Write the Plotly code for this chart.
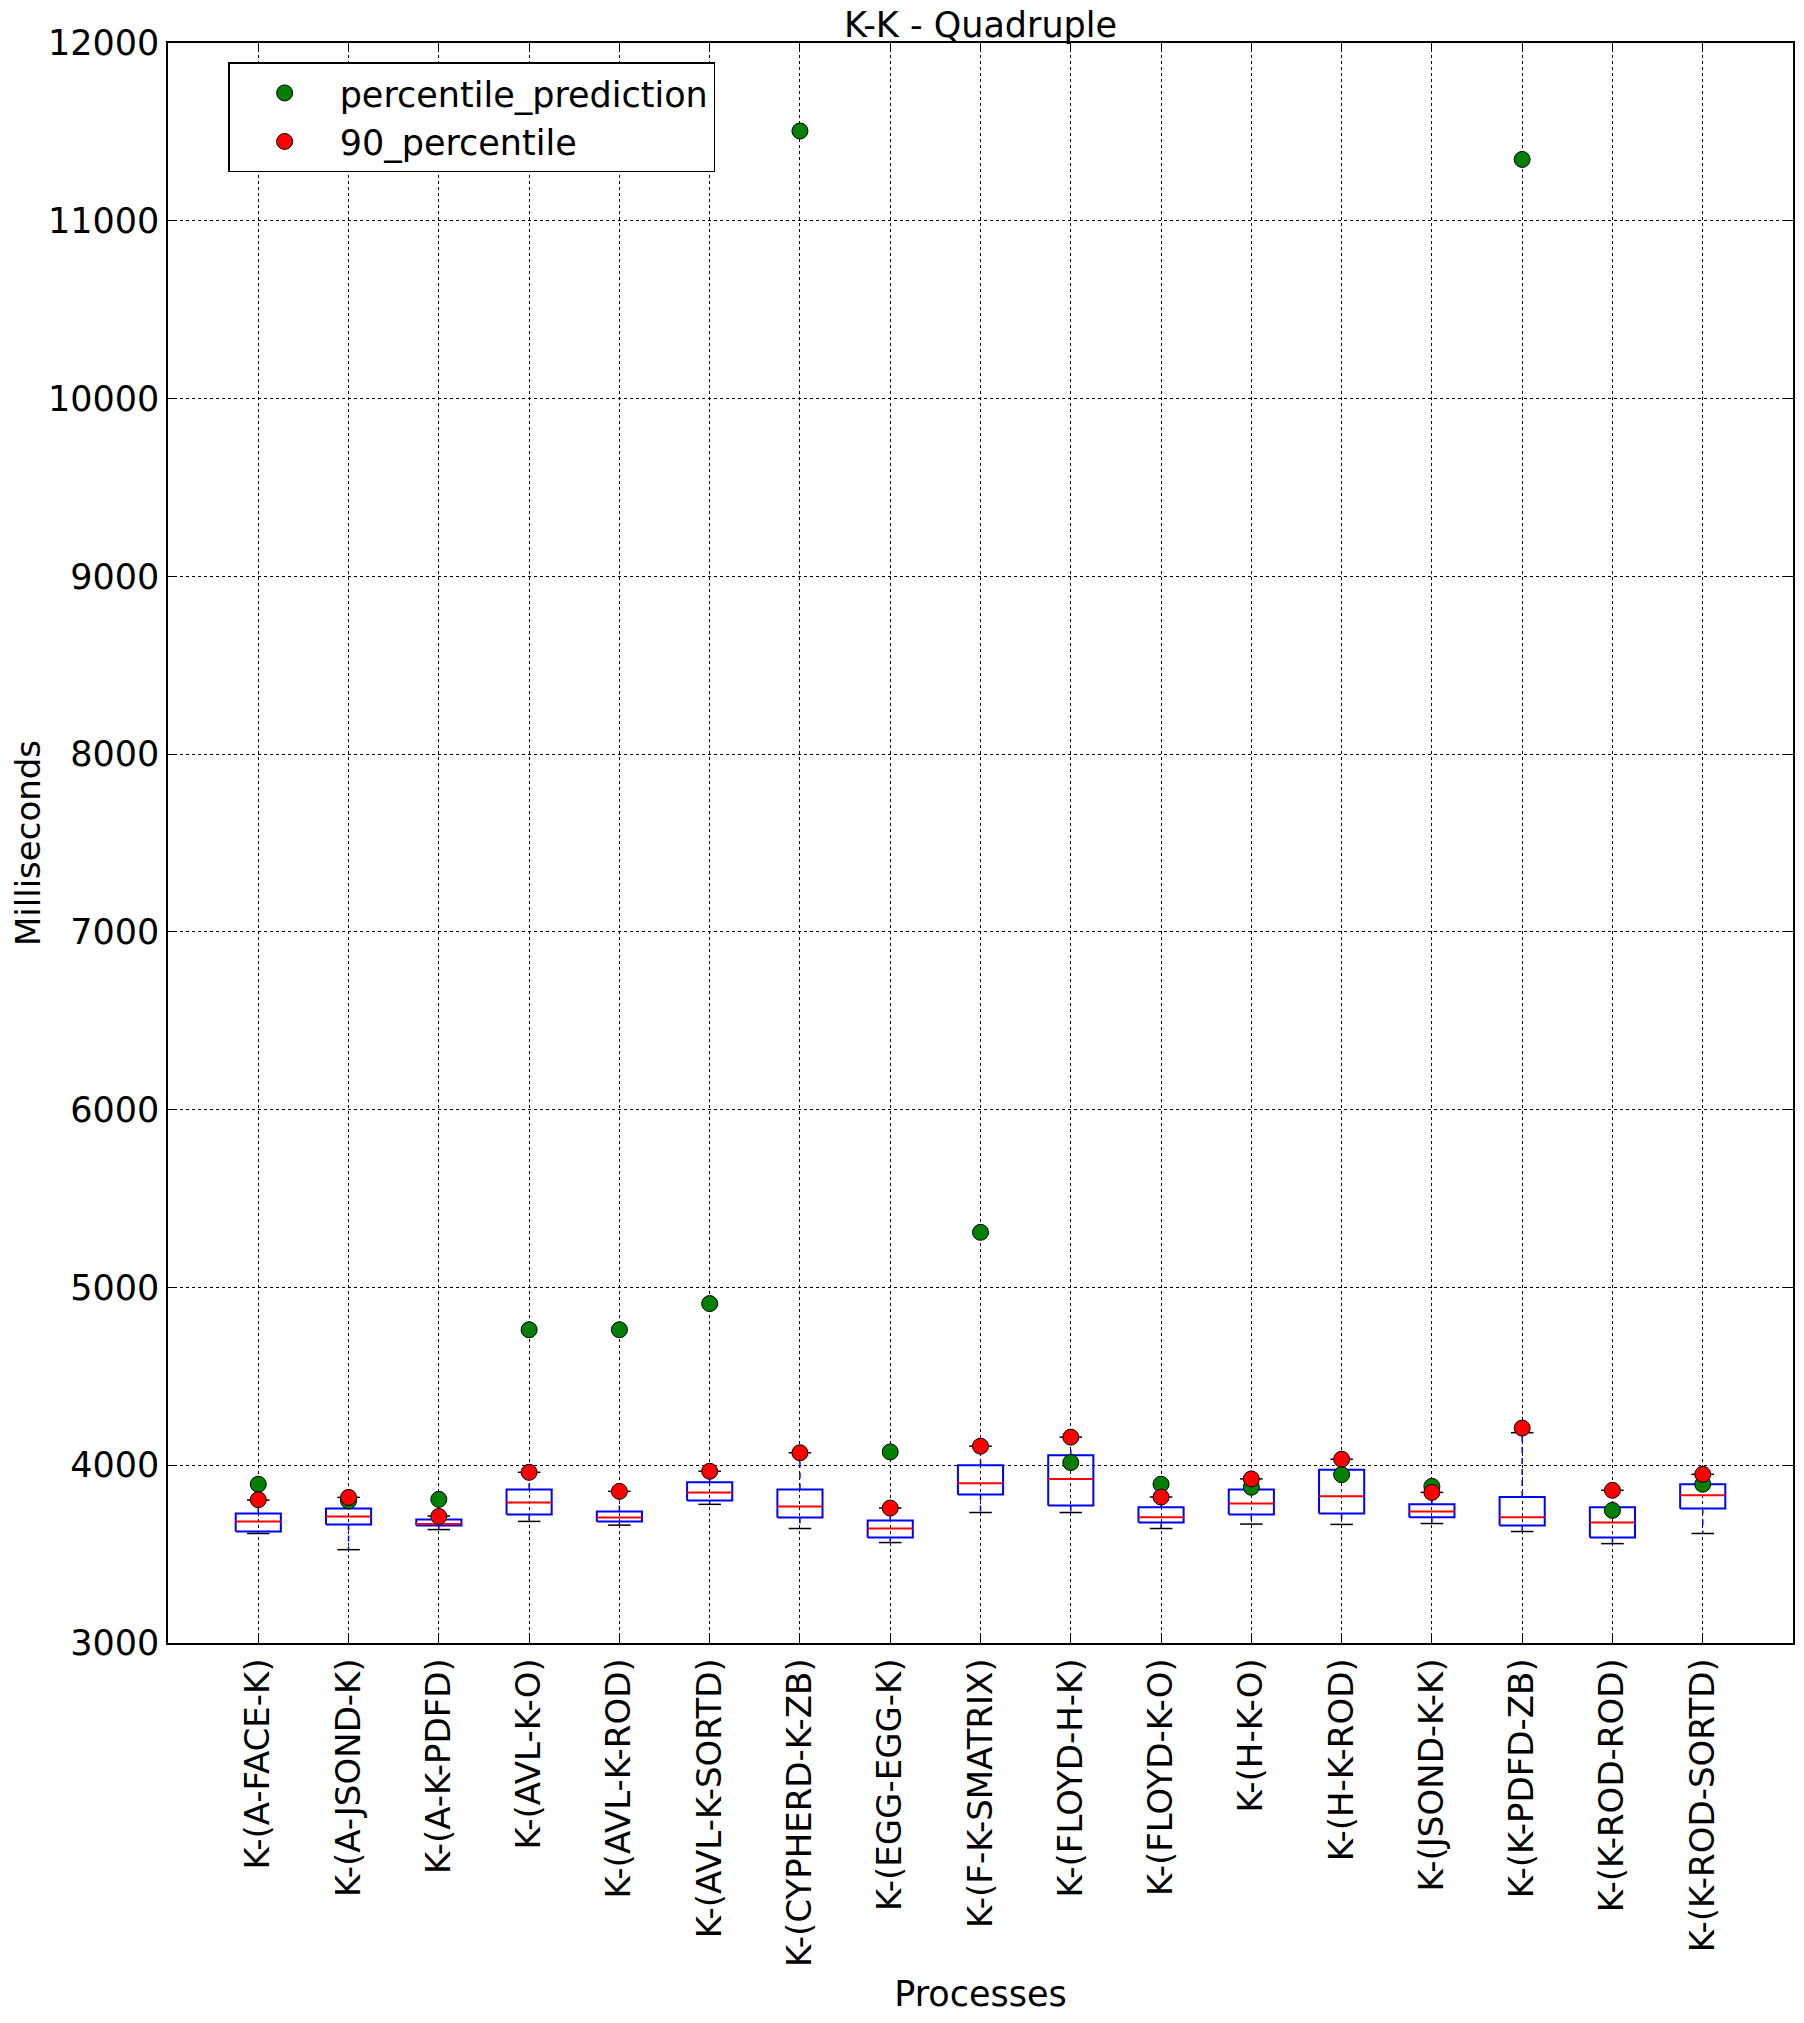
import plotly.graph_objs as go
import numpy as np

processes = ['K-(A-FACE-K)', 'K-(A-JSOND-K)', 'K-(A-K-PDFD)', 'K-(AVL-K-O)', 'K-(AVL-K-ROD)',
             'K-(AVL-K-SORTD)', 'K-(CYPHERD-K-ZB)', 'K-(EGG-EGG-K)', 'K-(F-K-SMATRIX)',
             'K-(FLOYD-H-K)', 'K-(FLOYD-K-O)', 'K-(H-K-O)', 'K-(H-K-ROD)', 'K-(JSOND-K-K)',
             'K-(K-PDFD-ZB)', 'K-(K-ROD-ROD)', 'K-(K-ROD-SORTD)']

whisker_low = [3616, 3525, 3638, 3684, 3663, 3780, 3644, 3565, 3734, 3734, 3644, 3669, 3667, 3672, 3627, 3559, 3616]
q1 = [3627, 3667, 3661, 3723, 3684, 3802, 3706, 3593, 3836, 3774, 3678, 3723, 3729, 3708, 3661, 3593, 3757]
median = [3684, 3712, 3670, 3791, 3706, 3847, 3768, 3644, 3898, 3923, 3708, 3785, 3825, 3740, 3708, 3678, 3831]
q3 = [3729, 3757, 3695, 3864, 3740, 3904, 3864, 3689, 4000, 4056, 3763, 3864, 3974, 3780, 3821, 3763, 3893]
whisker_high = [3804, 3819, 3714, 3960, 3853, 3966, 4070, 3759, 4107, 4158, 3821, 3923, 4034, 3847, 4183, 3859, 3949]

percentile_prediction = [3893, 3800, 3808, 4762, 4762, 4909, 11505, 4075, 5310, 4015, 3893, 3876, 3947, 3881, 11345, 3746, 3893]
percentile_90 = [3806, 3819, 3712, 3960, 3853, 3966, 4070, 3759, 4107, 4158, 3821, 3923, 4034, 3847, 4209, 3859, 3949]

pos = np.arange(1, len(processes) + 1)
half_box = 0.25
half_cap = 0.125


def segs(x0, x1, y0, y1):
    xs, ys = [], []
    for a, b, c, d in zip(x0, x1, y0, y1):
        xs += [a, b, None]
        ys += [c, d, None]
    return xs, ys


# box outlines
bx, by = [], []
for p, lo, hi in zip(pos, q1, q3):
    bx += [p - half_box, p + half_box, p + half_box, p - half_box, p - half_box, None]
    by += [lo, lo, hi, hi, lo, None]

wx1, wy1 = segs(pos, pos, q3, whisker_high)
wx2, wy2 = segs(pos, pos, q1, whisker_low)
cx1, cy1 = segs(pos - half_cap, pos + half_cap, whisker_high, whisker_high)
cx2, cy2 = segs(pos - half_cap, pos + half_cap, whisker_low, whisker_low)
mx, my = segs(pos - half_box, pos + half_box, median, median)

data = []
data.append(go.Scatter(x=wx1 + wx2, y=wy1 + wy2, mode='lines', showlegend=False, hoverinfo='skip',
                       line=dict(color='blue', width=1.5, dash='6px,5px')))
data.append(go.Scatter(x=cx1 + cx2, y=cy1 + cy2, mode='lines', showlegend=False, hoverinfo='skip',
                       line=dict(color='black', width=1.5)))
data.append(go.Scatter(x=bx, y=by, mode='lines', showlegend=False, hoverinfo='skip',
                       line=dict(color='blue', width=2)))
data.append(go.Scatter(x=mx, y=my, mode='lines', showlegend=False, hoverinfo='skip',
                       line=dict(color='red', width=2)))
data.append(go.Scatter(x=pos, y=percentile_prediction, mode='markers', name='percentile_prediction',
                       marker=dict(color='green', size=16, line=dict(color='black', width=1))))
data.append(go.Scatter(x=pos, y=percentile_90, mode='markers', name='90_percentile',
                       marker=dict(color='red', size=16, line=dict(color='black', width=1))))

font = 'DejaVu Sans, Arial, sans-serif'
axis_common = dict(
    showline=True, linecolor='black', linewidth=1.5, mirror='ticks',
    ticks='inside', ticklen=8, tickcolor='black', tickwidth=1,
    showgrid=True, gridcolor='black', gridwidth=1, griddash='dot',
    zeroline=False, automargin=False,
)

# page body has an 8px margin, so the margins are shifted by that amount
layout = go.Layout(
    width=1804, height=2023,
    margin=dict(l=160, r=19, t=35, b=388),
    paper_bgcolor='white', plot_bgcolor='white',
    font=dict(family=font, color='black'),
    title=dict(text='K-K - Quadruple', x=0.5, xref='paper', xanchor='center', y=1, yanchor='top',
               pad=dict(t=4), font=dict(size=35, family=font, color='black')),
    xaxis=dict(axis_common, range=[0, 18], tickvals=pos, ticktext=processes, tickangle=-90,
               tickfont=dict(size=34, color='black', family=font),
               title=dict(text='Processes', font=dict(size=35, family=font, color='black'), standoff=15)),
    yaxis=dict(axis_common, range=[3000, 12000], dtick=1000, tickformat='d',
               tickfont=dict(size=35, color='black', family=font),
               title=dict(text='Milliseconds', font=dict(size=34, family=font, color='black'), standoff=8)),
    legend=dict(x=0.037, y=0.988, xanchor='left', yanchor='top', bgcolor='white',
                bordercolor='black', borderwidth=1.5, font=dict(size=35, family=font, color='black'),
                itemwidth=100, tracegroupgap=4),
)

fig = go.Figure(data=data, layout=layout)
fig.write_html("out.html")
